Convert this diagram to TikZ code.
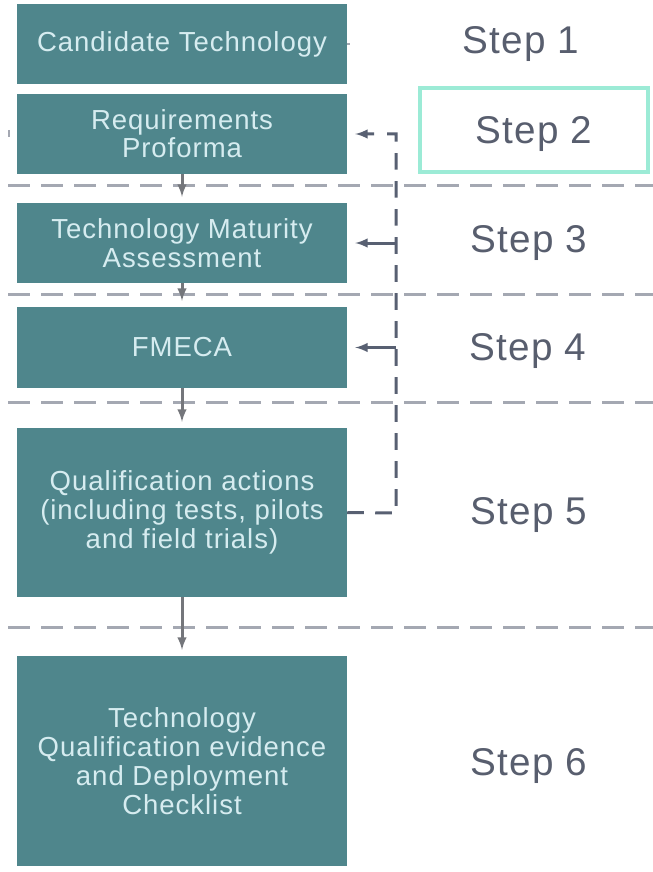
\documentclass[tikz,border=0pt]{standalone}
\usepackage{fontspec}
\setmainfont{Liberation Sans}
\newfontfamily\boxfont[LetterSpace=3.5]{Liberation Sans}
\newfontfamily\stepfont[LetterSpace=3]{Liberation Sans}
\usepackage{tikz}
\usetikzlibrary{arrows, positioning, calc}

\definecolor{boxteal}{RGB}{79,134,140}
\definecolor{boxtext}{RGB}{214,236,240}
\definecolor{steptext}{RGB}{88,94,110}
\definecolor{fbgray}{RGB}{88,96,114}
\definecolor{sepgray}{RGB}{164,168,178}
\definecolor{mint}{RGB}{156,235,214}

\tikzset{
  stagebox/.style={rectangle, fill=boxteal, text=boxtext, align=center,
    minimum width=9.9cm, inner sep=0pt,
    font=\boxfont\fontsize{23.5}{24.8}\selectfont},
  steplabel/.style={text=steptext, font=\stepfont\fontsize{33}{36}\selectfont},
  sepline/.style={sepgray, line width=0.09cm, dash pattern=on 0.66cm off 0.33cm},
  downarrow/.style={-latex, gray!70!fbgray, line width=0.09cm, shorten >=0.18cm},
  fbline/.style={fbgray, line width=0.09cm, dash pattern=on 0.5cm off 0.34cm},
  fbarrow/.style={-latex, fbgray, line width=0.09cm, shorten >=0.24cm}
}

\begin{document}
\begin{tikzpicture}[x=0.03cm, y=-0.03cm]
\useasboundingbox (0,0) rectangle (653,872);

% stages
\node[stagebox, minimum height=2.4cm] (b1) at (182,44) {Candidate Technology};
\node[stagebox, minimum height=2.4cm] (b2) at (182,134) {Requirements\\[-1pt]Proforma};
\node[stagebox, minimum height=2.4cm] (b3) at (182,243) {Technology Maturity\\Assessment};
\node[stagebox, minimum height=2.43cm] (b4) at (182,347.5) {FMECA};
\node[stagebox, minimum height=5.07cm] (b5) at (182,512.5) {Qualification actions\\(including tests, pilots\\and field trials)};
\node[stagebox, minimum height=6.3cm] (b6) at (182,761) {Technology\\Qualification evidence\\and Deployment\\Checklist};

% step labels
\node[steplabel] (s1) at (521,44) {Step 1};
\node[steplabel, draw=mint, line width=0.12cm, minimum width=6.84cm,
      minimum height=2.52cm, text depth=0pt] (s2) at (534,130) {Step 2};
\node[steplabel] (s3) at (529,243) {Step 3};
\node[steplabel] (s4) at (528,351) {Step 4};
\node[steplabel] (s5) at (529,515) {Step 5};
\node[steplabel] (s6) at (529,766) {Step 6};

% separators
\foreach \yy in {185,294,402,627} {
  \draw[sepline] (8,\yy) -- (653,\yy);
}

% flow down
\draw[downarrow] (b2) -- (b3);
\draw[downarrow] (b3) -- (b4);
\draw[downarrow] (b4) -- (b5);
\draw[downarrow] (b5) -- (b6);

% feedback loop
\coordinate (fbtop) at (396,134);
\coordinate (fbbot) at (396,513);
\draw[fbline] (b5.east) -- (fbbot) -- (fbtop) -- ($(fbtop)!0.25!(fbtop -| b2.east)$);
\draw[fbarrow] ($(fbtop)!0.45!(fbtop -| b2.east)$) -- (b2.east);
\draw[fbarrow] (b3.east -| fbtop) -- (b3.east);
\draw[fbarrow] (b4.east -| fbtop) -- (b4.east);

% small marks
\draw[sepgray, line width=0.07cm] (b1.east) -- ++(3,0);
\draw[sepgray, line width=0.07cm] (9,130) -- (9,137);
\end{tikzpicture}
\end{document}
